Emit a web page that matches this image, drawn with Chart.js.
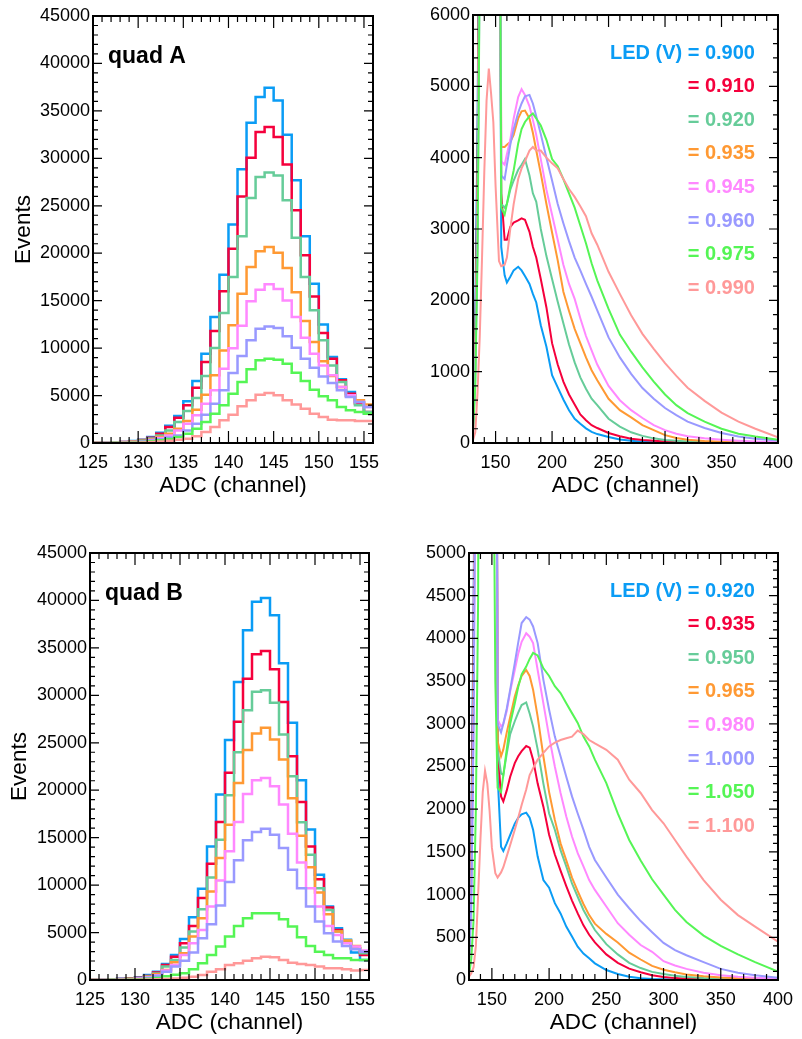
<!DOCTYPE html>
<html>
<head>
<meta charset="utf-8">
<script src="https://cdn.jsdelivr.net/npm/chart.js@4.4.0/dist/chart.umd.min.js"></script>
<style>
  body { margin: 0; background: #fff; width: 802px; height: 1039px; position: relative; overflow: hidden; }
  canvas { position: absolute; }
</style>
</head>
<body>
<canvas id="quadA" width="400" height="510" style="left:0;top:0"></canvas>
<canvas id="ledA" width="402" height="510" style="left:400px;top:0"></canvas>
<canvas id="quadB" width="400" height="509" style="left:0;top:530px"></canvas>
<canvas id="ledB" width="402" height="509" style="left:400px;top:530px"></canvas>
<script>
const FONT = "'Liberation Sans', Arial, Helvetica, sans-serif";

const colours = ['#0a9cf5', '#f5003c', '#66cc99', '#ff9933', '#ff88ff', '#9999ff', '#55f555', '#ff9999'];
const voltsA = ['0.900', '0.910', '0.920', '0.935', '0.945', '0.960', '0.975', '0.990'];
const voltsB = ['0.920', '0.935', '0.950', '0.965', '0.980', '1.000', '1.050', '1.100'];

// left panels: 1-channel bins, edges 125..156
const binEdges = [125, 126, 127, 128, 129, 130, 131, 132, 133, 134, 135, 136, 137, 138, 139, 140,
                  141, 142, 143, 144, 145, 146, 147, 148, 149, 150, 151, 152, 153, 154, 155, 156];
const xTicksPeak = [125, 130, 135, 140, 145, 150, 155];
const yTicksPeak = [0, 5000, 10000, 15000, 20000, 25000, 30000, 35000, 40000, 45000];

// quad A, peak region (counts per bin)
const peakA900 = [20, 40, 60, 110, 200, 350, 630, 1090, 1830, 2850, 4390, 6530, 9410, 13280, 17740, 23040, 28840, 33750, 36460, 37440, 36100, 32490, 27680, 21780, 16790, 12500, 9060, 6710, 5370, 4320, 3090];
const peakA910 = [15, 30, 55, 100, 180, 320, 560, 980, 1690, 2670, 3970, 5830, 8540, 11800, 15980, 20480, 25990, 30070, 32770, 33300, 32240, 29360, 24520, 19780, 15450, 11590, 8890, 6600, 5200, 4150, 3270];
const peakA920 = [12, 25, 45, 80, 150, 270, 480, 800, 1330, 2210, 3370, 4740, 7060, 10010, 13700, 17490, 21780, 25820, 28030, 28520, 28200, 25570, 21640, 17490, 13980, 10820, 8180, 6430, 5020, 3970, 3270];
const peakA935 = [10, 20, 40, 70, 120, 220, 380, 620, 980, 1510, 2320, 3510, 5090, 7130, 9760, 12400, 15740, 18550, 20200, 20650, 20060, 18440, 15880, 12860, 10640, 8610, 7060, 5900, 4950, 4500, 4070];
const peakA945 = [8, 18, 35, 60, 100, 190, 320, 520, 800, 1330, 2040, 2920, 4140, 5550, 7830, 9980, 12360, 14930, 16160, 16720, 16230, 15030, 13280, 11100, 9410, 8180, 7130, 5900, 5020, 4320, 3790];
const peakA960 = [7, 15, 30, 50, 90, 160, 270, 400, 580, 800, 1330, 2040, 2990, 4140, 5550, 7380, 9170, 10820, 12050, 12290, 12120, 11240, 10050, 8890, 7940, 7020, 6320, 5550, 4850, 4320, 3790];
const peakA975 = [5, 10, 20, 35, 60, 110, 180, 280, 420, 630, 980, 1510, 2210, 3090, 3970, 5200, 6430, 7760, 8710, 8890, 8780, 8360, 7410, 6530, 5620, 4920, 4500, 3790, 3440, 3270, 3090];
const peakA990 = [3, 6, 12, 20, 35, 60, 100, 160, 240, 340, 460, 700, 1160, 1690, 2390, 2990, 3860, 4500, 5090, 5270, 5020, 4500, 4070, 3620, 3090, 2740, 2460, 2390, 2390, 2320, 2320];

// quad B, peak region
const peakB920 = [20, 40, 70, 120, 180, 280, 530, 880, 1690, 2640, 4330, 6620, 9610, 14080, 19540, 25280, 31410, 36870, 39860, 40250, 38450, 33380, 27110, 21060, 15850, 11090, 7750, 5460, 4230, 2890, 2110];
const peakB935 = [15, 30, 55, 100, 160, 250, 430, 800, 1580, 2460, 3870, 5700, 8630, 12250, 16650, 21830, 27220, 31760, 34330, 34680, 32750, 29300, 23590, 18770, 14080, 10630, 7640, 5280, 4050, 3350, 2640];
const peakB950 = [12, 25, 45, 80, 130, 220, 380, 680, 1410, 2110, 3420, 5110, 7460, 10810, 14790, 19470, 24010, 28420, 30390, 30530, 29230, 25880, 21480, 16620, 13200, 9680, 7390, 5110, 4150, 3350, 2820];
const peakB965 = [10, 20, 40, 70, 110, 190, 330, 600, 1060, 1870, 2820, 4580, 6510, 9330, 12850, 16370, 20770, 24230, 25990, 26580, 25350, 23240, 19150, 15210, 11870, 9230, 6940, 5110, 4150, 3590, 2990];
const peakB980 = [8, 16, 30, 55, 90, 160, 280, 500, 990, 1580, 2640, 3870, 5280, 7750, 10490, 13560, 16650, 19610, 21060, 21300, 20420, 18490, 15420, 12390, 9680, 7750, 5700, 4750, 3870, 3520, 3100];
const peakB1000 = [7, 14, 26, 45, 80, 140, 240, 450, 880, 1410, 2040, 2890, 4400, 5880, 7850, 10320, 12610, 14720, 15600, 15950, 15320, 13910, 11620, 9680, 7750, 6160, 4930, 4050, 3590, 3240, 2990];
const peakB1050 = [4, 8, 15, 25, 45, 80, 130, 220, 400, 550, 700, 1130, 1760, 2640, 3520, 4580, 5700, 6510, 7040, 7040, 7040, 6410, 5630, 4510, 3590, 2990, 2640, 2290, 2290, 2110, 2110];
const peakB1100 = [2, 4, 8, 14, 22, 35, 55, 90, 110, 150, 230, 350, 530, 880, 1130, 1580, 1760, 2040, 2290, 2460, 2390, 2110, 1830, 1690, 1580, 1410, 1230, 1230, 1130, 990, 1060];

// right panels: full spectrum, read at these ADC channels
const adcGrid = [130, 132, 134, 136, 138, 140, 142, 144, 146, 148, 150, 153, 155, 158, 160, 163, 166, 170, 173, 176,
                 180, 183, 186, 190, 195, 200, 205, 210, 215, 220, 225, 230, 235, 240, 250, 260, 270, 280, 290, 300,
                 310, 320, 335, 350, 365, 380, 400];
const xTicksAdc = [150, 200, 250, 300, 350, 400];
const yTicksLedA = [0, 1000, 2000, 3000, 4000, 5000, 6000];
const yTicksLedB = [0, 500, 1000, 1500, 2000, 2500, 3000, 3500, 4000, 4500, 5000];

const ledA900 = [300, 1800, 4400, 9000, 20000, 20000, 20000, 20000, 20000, 20000, 20000, 12000, 2750, 2350, 2250, 2330, 2420, 2470, 2420, 2340,
                 2230, 2090, 1970, 1650, 1350, 950, 780, 610, 460, 340, 270, 205, 155, 125, 85, 50, 30, 17, 10, 6,
                 4, 2, 1, 0, 0, 0, 0];
const ledA910 = [250, 1400, 3800, 8500, 20000, 20000, 20000, 20000, 20000, 20000, 20000, 12000, 3500, 2850, 2850, 3030, 3090, 3120, 3150, 3130,
                 2960, 2750, 2600, 2300, 1900, 1400, 1100, 860, 680, 540, 400, 320, 250, 210, 140, 95, 60, 42, 30, 20,
                 12, 6, 3, 1, 0, 0, 0];
const ledA920 = [200, 1200, 3500, 8000, 20000, 20000, 20000, 20000, 20000, 20000, 20000, 12000, 3350, 3300, 3350, 3550, 3680, 3830, 3900, 3980,
                 3750, 3500, 3380, 3000, 2620, 2300, 1980, 1680, 1380, 1130, 920, 760, 620, 530, 340, 230, 150, 100, 65, 42,
                 30, 20, 12, 7, 4, 2, 1];
const ledA935 = [180, 1100, 3300, 7800, 20000, 20000, 20000, 20000, 20000, 20000, 20000, 12000, 4150, 4150, 4180, 4220, 4320, 4550, 4650, 4660,
                 4550, 4350, 4100, 3780, 3350, 2950, 2560, 2120, 1850, 1600, 1400, 1200, 1020, 880, 620, 460, 360, 250, 180, 110,
                 70, 45, 28, 18, 10, 6, 3];
const ledA945 = [160, 1000, 3000, 7500, 20000, 20000, 20000, 20000, 20000, 20000, 20000, 12000, 3950, 3900, 4050, 4250, 4550, 4850, 4960, 4880,
                 4720, 4530, 4320, 3980, 3550, 3200, 2850, 2500, 2230, 2020, 1750, 1500, 1300, 1100, 800, 600, 460, 350, 250, 180,
                 130, 95, 65, 45, 30, 20, 12];
const ledA960 = [150, 900, 2800, 7000, 20000, 20000, 20000, 20000, 20000, 20000, 20000, 12000, 3750, 3700, 3900, 4180, 4400, 4630, 4760, 4860,
                 4880, 4760, 4580, 4330, 4000, 3680, 3350, 3080, 2830, 2600, 2420, 2230, 2050, 1860, 1480, 1200, 970, 770, 620, 490,
                 390, 300, 210, 140, 90, 60, 35];
const ledA975 = [140, 800, 2600, 6800, 20000, 20000, 20000, 20000, 20000, 20000, 20000, 12000, 3300, 3200, 3350, 3600, 3820, 4200, 4400, 4500,
                 4580, 4620, 4550, 4450, 4250, 3980, 3880, 3700, 3500, 3300, 3050, 2800, 2520, 2280, 1880, 1520, 1280, 1060, 860, 680,
                 530, 420, 300, 200, 130, 90, 45];
const ledA990 = [40, 150, 700, 1500, 2600, 3800, 4800, 5250, 4900, 4500, 3600, 2550, 2480, 2500, 2600, 3000, 3350, 3700, 3850, 3950,
                 4100, 4150, 4100, 4100, 4000, 3920, 3850, 3700, 3560, 3450, 3320, 3180, 2940, 2780, 2400, 2090, 1790, 1530, 1320, 1120,
                 940, 775, 590, 425, 300, 200, 80];

const ledB920 = [300, 1800, 4300, 9000, 20000, 20000, 20000, 20000, 20000, 20000, 20000, 12000, 2400, 1560, 1510, 1600, 1700, 1830, 1900, 1940,
                 1960, 1900, 1760, 1445, 1170, 1080, 900, 780, 625, 510, 390, 310, 255, 195, 117, 70, 39, 20, 12, 8,
                 5, 2, 1, 0, 0, 0, 0];
const ledB935 = [250, 1500, 3900, 8500, 20000, 20000, 20000, 20000, 20000, 20000, 20000, 12000, 2700, 2150, 2090, 2220, 2380, 2540, 2620, 2680,
                 2740, 2720, 2580, 2300, 2030, 1700, 1470, 1280, 1100, 930, 780, 640, 530, 440, 300, 200, 133, 90, 55, 35,
                 22, 15, 9, 6, 3, 2, 1];
const ledB950 = [200, 1300, 3600, 8000, 20000, 20000, 20000, 20000, 20000, 20000, 20000, 12000, 2700, 2420, 2400, 2650, 2880, 3030, 3130, 3220,
                 3250, 3120, 2970, 2700, 2300, 1950, 1760, 1520, 1330, 1130, 975, 820, 700, 585, 420, 300, 200, 140, 95, 70,
                 50, 35, 22, 15, 10, 6, 4];
const ledB965 = [180, 1200, 3400, 7800, 20000, 20000, 20000, 20000, 20000, 20000, 20000, 12000, 2800, 2620, 2700, 2900, 3080, 3320, 3450, 3560,
                 3630, 3560, 3400, 3085, 2620, 2200, 1875, 1600, 1400, 1200, 1040, 890, 760, 660, 540, 440, 320, 240, 165, 120,
                 90, 65, 45, 30, 20, 15, 10];
const ledB980 = [160, 1000, 3100, 7500, 20000, 20000, 20000, 20000, 20000, 20000, 20000, 12000, 3050, 2970, 3000, 3150, 3380, 3630, 3820, 3960,
                 4060, 4020, 3945, 3630, 3240, 2850, 2500, 2190, 1915, 1680, 1485, 1330, 1170, 1055, 860, 665, 530, 410, 330, 220,
                 170, 130, 85, 55, 38, 26, 16];
const ledB1000 = [150, 900, 2900, 7000, 20000, 20000, 20000, 20000, 20000, 20000, 20000, 12000, 3000, 2900, 3000, 3180, 3400, 3710, 3950, 4180,
                  4250, 4220, 4140, 3945, 3515, 3165, 2850, 2620, 2380, 2150, 1950, 1760, 1560, 1405, 1200, 1000, 840, 690, 560, 434,
                  350, 290, 210, 130, 85, 55, 25];
const ledB1050 = [50, 250, 700, 2000, 4500, 20000, 20000, 20000, 20000, 20000, 9000, 3500, 2250, 2200, 2400, 2700, 3000, 3240, 3430, 3580,
                  3670, 3760, 3830, 3800, 3650, 3560, 3440, 3360, 3240, 3125, 3010, 2850, 2735, 2580, 2305, 1950, 1640, 1400, 1180, 1000,
                  820, 680, 520, 400, 300, 210, 100];
const ledB1100 = [40, 80, 150, 400, 1000, 1650, 2200, 2450, 2300, 1980, 1550, 1250, 1200, 1260, 1320, 1450, 1580, 1760, 1900, 2050,
                  2230, 2400, 2480, 2580, 2660, 2735, 2780, 2810, 2830, 2850, 2920, 2880, 2810, 2770, 2695, 2580, 2345, 2190, 1990, 1835,
                  1640, 1445, 1170, 940, 760, 625, 450];

// frame with ROOT-style inward ticks on all four sides
const frameTicks = {
    id: 'frameTicks',
    afterDatasetsDraw(chart, args, o) {
        const { ctx, chartArea: a, scales: { x, y } } = chart;
        ctx.save();
        ctx.strokeStyle = '#000';
        ctx.lineWidth = 1.2;
        ctx.beginPath();
        for (let v = x.min; v <= x.max; v += o.xStep) {
            const px = x.getPixelForValue(v);
            const len = o.xMajor.includes(v) ? 12 : 6;
            ctx.moveTo(px, a.bottom); ctx.lineTo(px, a.bottom - len);
            ctx.moveTo(px, a.top); ctx.lineTo(px, a.top + len);
        }
        for (let v = y.min; v <= y.max; v += o.yStep) {
            const py = y.getPixelForValue(v);
            const len = o.yMajor.includes(v) ? 9 : 5;
            ctx.moveTo(a.left, py); ctx.lineTo(a.left + len, py);
            ctx.moveTo(a.right, py); ctx.lineTo(a.right - len, py);
        }
        ctx.stroke();
        ctx.lineWidth = 2;
        ctx.strokeRect(a.left, a.top, a.right - a.left, a.bottom - a.top);
        ctx.restore();
    }
};

const panelText = {
    id: 'panelText',
    afterDraw(chart, args, o) {
        const { ctx, chartArea: a } = chart;
        ctx.save();
        ctx.textBaseline = 'middle';
        if (o.quad) {
            ctx.font = 'bold 23px ' + FONT;
            ctx.fillStyle = '#000';
            ctx.textAlign = 'left';
            ctx.fillText(o.quad, a.left + 15, a.top + 41);
        }
        if (o.legend) {
            ctx.font = 'bold 20px ' + FONT;
            ctx.textAlign = 'right';
            o.legend.forEach((t, i) => {
                ctx.fillStyle = colours[i];
                ctx.fillText(t, a.right - 23, a.top + 38 + i * 33.6);
            });
        }
        ctx.restore();
    }
};

function renderPanel(id, cfg) {
    const ctx = document.getElementById(id).getContext('2d');
    const tickFont = { family: FONT, size: 18 };
    const titleFont = { family: FONT, size: 22.5 };

    return new Chart(ctx, {
        type: 'line',
        data: {
            datasets: cfg.series.map((vals, i) => ({
                label: cfg.labels[i],
                data: cfg.xs.map((xv, j) => ({ x: xv, y: j < vals.length ? vals[j] : vals[vals.length - 1] })),
                borderColor: colours[i],
                borderWidth: cfg.stepped ? 2.5 : 2,
                pointRadius: 0,
                stepped: cfg.stepped ? 'before' : false,
                tension: 0,
                fill: false,
                order: cfg.series.length - i
            }))
        },
        options: {
            responsive: false,
            animation: false,
            events: [],
            layout: { padding: cfg.padding },
            plugins: {
                legend: { display: false },
                tooltip: { enabled: false },
                frameTicks: { xStep: cfg.xStep, yStep: cfg.yStep, xMajor: cfg.xTicks, yMajor: cfg.yTicks },
                panelText: { quad: cfg.quad, legend: cfg.legend }
            },
            scales: {
                x: {
                    type: 'linear',
                    min: cfg.xMin,
                    max: cfg.xMax,
                    afterFit: s => { s.height = cfg.xHeight; },
                    afterBuildTicks: s => { s.ticks = cfg.xTicks.map(v => ({ value: v })); },
                    grid: { display: false, drawTicks: false },
                    border: { display: false },
                    ticks: { font: tickFont, color: '#000', padding: 9, maxRotation: 0, autoSkip: false, callback: v => String(v) },
                    title: { display: true, text: 'ADC (channel)', font: titleFont, color: '#000', padding: { top: 0, bottom: cfg.xTitlePad } }
                },
                y: {
                    type: 'linear',
                    min: 0,
                    max: cfg.yMax,
                    afterFit: s => { s.width = cfg.yWidth; },
                    afterBuildTicks: s => { s.ticks = cfg.yTicks.map(v => ({ value: v })); },
                    grid: { display: false, drawTicks: false },
                    border: { display: false },
                    ticks: { font: tickFont, color: '#000', padding: 3, autoSkip: false, callback: v => String(v) },
                    title: { display: !!cfg.yTitle, text: cfg.yTitle || '', font: titleFont, color: '#000', padding: { top: cfg.yTitlePad || 0, bottom: 0 } }
                }
            }
        },
        plugins: [frameTicks, panelText]
    });
}

renderPanel('quadA', {
    xs: binEdges, stepped: true,
    series: [peakA900, peakA910, peakA920, peakA935, peakA945, peakA960, peakA975, peakA990],
    labels: voltsA,
    xMin: 125, xMax: 156, xStep: 1, xTicks: xTicksPeak,
    yMax: 45000, yStep: 1000, yTicks: yTicksPeak,
    padding: { left: 0, top: 16, right: 27, bottom: 0 },
    yWidth: 93, xHeight: 67, xTitlePad: 11,
    yTitle: 'Events', yTitlePad: 10,
    quad: 'quad A'
});

renderPanel('ledA', {
    xs: adcGrid, stepped: false,
    series: [ledA900, ledA910, ledA920, ledA935, ledA945, ledA960, ledA975, ledA990],
    labels: voltsA,
    xMin: 130, xMax: 400, xStep: 10, xTicks: xTicksAdc,
    yMax: 6000, yStep: 200, yTicks: yTicksLedA,
    padding: { left: 0, top: 15, right: 19, bottom: 0 },
    yWidth: 73, xHeight: 67, xTitlePad: 11,
    legend: voltsA.map((v, i) => (i === 0 ? 'LED (V) = ' : '= ') + v)
});

renderPanel('quadB', {
    xs: binEdges, stepped: true,
    series: [peakB920, peakB935, peakB950, peakB965, peakB980, peakB1000, peakB1050, peakB1100],
    labels: voltsB,
    xMin: 125, xMax: 156, xStep: 1, xTicks: xTicksPeak,
    yMax: 45000, yStep: 1000, yTicks: yTicksPeak,
    padding: { left: 0, top: 23, right: 31, bottom: 0 },
    yWidth: 90, xHeight: 59, xTitlePad: 3,
    yTitle: 'Events', yTitlePad: 6,
    quad: 'quad B'
});

renderPanel('ledB', {
    xs: adcGrid, stepped: false,
    series: [ledB920, ledB935, ledB950, ledB965, ledB980, ledB1000, ledB1050, ledB1100],
    labels: voltsB,
    xMin: 130, xMax: 400, xStep: 10, xTicks: xTicksAdc,
    yMax: 5000, yStep: 100, yTicks: yTicksLedB,
    padding: { left: 0, top: 23, right: 21, bottom: 0 },
    yWidth: 69, xHeight: 59, xTitlePad: 3,
    legend: voltsB.map((v, i) => (i === 0 ? 'LED (V) = ' : '= ') + v)
});
</script>
</body>
</html>
